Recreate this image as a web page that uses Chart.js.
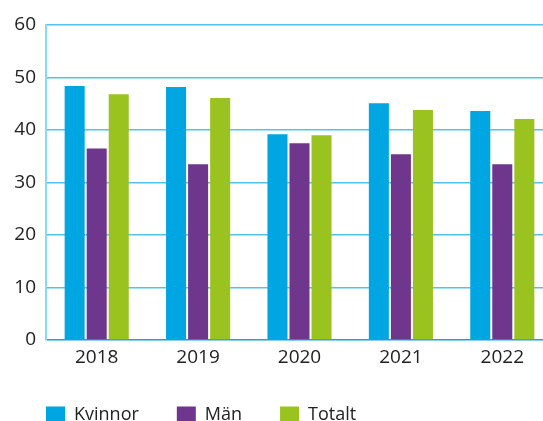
<!DOCTYPE html>
<html>
<head>
<meta charset="utf-8">
<script src="https://cdn.jsdelivr.net/npm/chart.js@4"></script>
<style>
html,body{margin:0;padding:0;background:#fff;overflow:hidden;}
#wrap{position:relative;width:553px;height:421px;}
</style>
</head>
<body>
<div id="wrap"><canvas id="c" width="553" height="421"></canvas></div>
<script>
const categories = ['2018','2019','2020','2021','2022'];
const kvinnor = [48.4, 48.2, 39.2, 45.1, 43.6];
const man = [36.5, 33.5, 37.5, 35.4, 33.5];
const totalt = [46.8, 46.1, 39.0, 43.8, 42.1];
const seriesNames = ['Kvinnor','Män','Totalt'];
const yTicks = [0,10,20,30,40,50,60];

const FONT = "'Open Sans', sans-serif";
new Chart(document.getElementById('c'), {
  type: 'bar',
  data: {
    labels: categories,
    datasets: [
      {label: seriesNames[0], data: kvinnor, backgroundColor: '#00a6e1'},
      {label: seriesNames[1], data: man, backgroundColor: '#6e368c'},
      {label: seriesNames[2], data: totalt, backgroundColor: '#9bc31f'}
    ]
  },
  options: {
    responsive: false,
    animation: false,
    datasets: {bar: {categoryPercentage: 0.652, barPercentage: 0.909}},
    layout: {padding: {left: 8, right: 0, top: 25, bottom: 0}},
    plugins: {
      tooltip: {enabled: false},
      legend: {
        position: 'bottom',
        align: 'start',
        maxHeight: 53,
        labels: {
          boxWidth: 19, boxHeight: 17, padding: 38,
          color: '#222', font: {family: FONT, size: 18}
        }
      }
    },
    scales: {
      x: {
        afterFit: (s) => { s.height = 28; },
        grid: {display: false, drawTicks: false},
        border: {display: false},
        ticks: {color: '#222', font: {family: FONT, size: 19}, padding: 6}
      },
      y: {
        min: 0, max: 60,
        afterFit: (s) => { s.width = 38; },
        afterBuildTicks: (s) => { s.ticks = yTicks.map(v => ({value: v})); },
        grid: {
          color: (ctx) => ctx.tick && ctx.tick.value === 0 ? '#1aa0dc' : '#55c2ec',
          lineWidth: 1.6,
          drawTicks: false
        },
        border: {display: true, color: '#8dd7f3', width: 2},
        ticks: {color: '#222', font: {family: FONT, size: 19}, padding: 10}
      }
    }
  }
});
</script>
</body>
</html>
